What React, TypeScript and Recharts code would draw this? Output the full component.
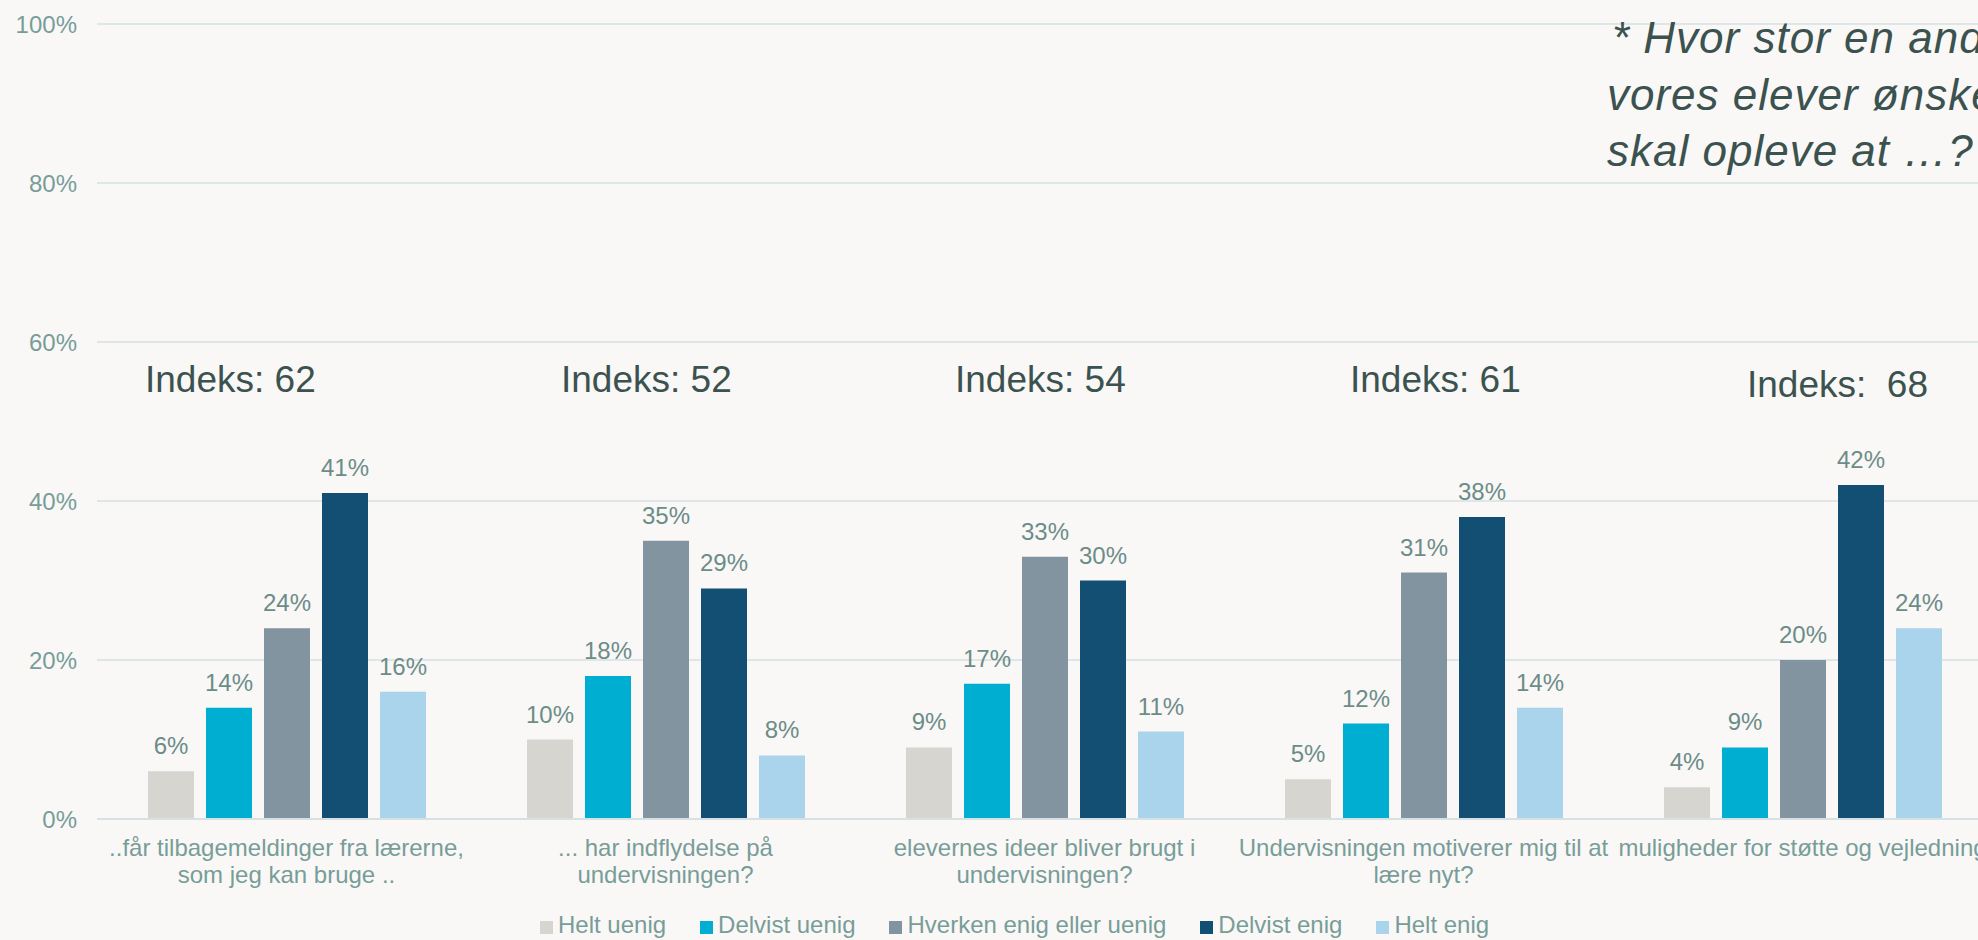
import React from "react";
import {
  BarChart,
  Bar,
  XAxis,
  YAxis,
  CartesianGrid,
  Legend,
  LabelList,
} from "recharts";

const categories = [
  "..får tilbagemeldinger fra lærerne,\nsom jeg kan bruge ..",
  "... har indflydelse på\nundervisningen?",
  "elevernes ideer bliver brugt i\nundervisningen?",
  "Undervisningen motiverer mig til at\nlære nyt?",
  "muligheder for støtte og vejledning",
];

const heltUenig = [6, 10, 9, 5, 4];
const delvistUenig = [14, 18, 17, 12, 9];
const hverken = [24, 35, 33, 31, 20];
const delvistEnig = [41, 29, 30, 38, 42];
const heltEnig = [16, 8, 11, 14, 24];

const indeks = ["62", "52", "54", "61", " 68"];

const yTicks = [0, 20, 40, 60, 80, 100];

const titleLines = [
  "* Hvor stor en andel af",
  "vores elever ønsker, at de",
  "skal opleve at …?",
];

const data = categories.map((name, i) => ({
  name,
  heltUenig: heltUenig[i],
  delvistUenig: delvistUenig[i],
  hverken: hverken[i],
  delvistEnig: delvistEnig[i],
  heltEnig: heltEnig[i],
}));

const series = [
  { key: "heltUenig", name: "Helt uenig", color: "#d7d5d0" },
  { key: "delvistUenig", name: "Delvist uenig", color: "#00aed1" },
  { key: "hverken", name: "Hverken enig eller uenig", color: "#8394a1" },
  { key: "delvistEnig", name: "Delvist enig", color: "#124f73" },
  { key: "heltEnig", name: "Helt enig", color: "#a9d4ec" },
];

const FONT = '"Liberation Sans", Arial, sans-serif';
const AXIS_TEXT = "#789d98";
const LABEL_TEXT = "#6c8c88";
const DARK_TEXT = "#3b524f";

// text boxes from the slide, placed by hand
const indeksPos = [
  { x: 145, y: 392 },
  { x: 561, y: 392 },
  { x: 955, y: 392 },
  { x: 1350, y: 392 },
  { x: 1747, y: 397 },
];

const CategoryTick = ({ x, y, payload }: any) => {
  const lines = String(payload.value).split("\n");
  return (
    <text x={x} y={y} textAnchor="middle" fill={AXIS_TEXT} fontSize={24} fontFamily={FONT}>
      {lines.map((line, i) => (
        <tspan key={i} x={x} y={y + 37 + i * 27}>
          {line}
        </tspan>
      ))}
    </text>
  );
};

// legend drawn in series order (recharts sorts its payload by name)
const LegendContent = () => (
  <div style={{ display: "flex", height: 28, fontFamily: FONT }}>
    {series.map((s) => (
      <div
        key={s.key}
        style={{ display: "flex", alignItems: "flex-start", marginRight: 34, lineHeight: "28px" }}
      >
        <div style={{ width: 13, height: 13, marginTop: 10, marginRight: 5, backgroundColor: s.color }} />
        <span style={{ fontSize: 24, color: AXIS_TEXT, whiteSpace: "nowrap" }}>{s.name}</span>
      </div>
    ))}
  </div>
);

export default function App() {
  return (
    <div
      style={{
        position: "fixed",
        left: 0,
        top: 0,
        width: 1978,
        height: 940,
        overflow: "hidden",
        background: "#f9f8f7",
        fontFamily: FONT,
      }}
    >
      <BarChart
        width={1992}
        height={940}
        data={data}
        margin={{ top: 24, right: 0, left: 0, bottom: 0 }}
        barSize={46}
        barGap={12}
      >
        <CartesianGrid vertical={false} stroke="#dee6e7" strokeWidth={2} />
        <XAxis
          dataKey="name"
          interval={0}
          height={93}
          tickLine={false}
          tickSize={0}
          tickMargin={0}
          axisLine={{ stroke: "#d6e1e3", strokeWidth: 2 }}
          tick={<CategoryTick />}
        />
        <YAxis
          width={97}
          domain={[0, 100]}
          ticks={yTicks}
          axisLine={false}
          tickLine={false}
          tickSize={0}
          tickMargin={20}
          tickFormatter={(v: number) => `${v}%`}
          tick={{ fill: AXIS_TEXT, fontSize: 24, fontFamily: FONT }}
        />
        <Legend
          verticalAlign="bottom"
          content={<LegendContent />}
          wrapperStyle={{ left: 540, top: 911, width: "auto" }}
        />
        {series.map((s) => (
          <Bar key={s.key} dataKey={s.key} name={s.name} fill={s.color} isAnimationActive={false}>
            <LabelList
              dataKey={s.key}
              position="top"
              offset={17}
              formatter={(v: any) => `${v}%`}
              fill={LABEL_TEXT}
              fontSize={24}
              fontFamily={FONT}
            />
          </Bar>
        ))}
      </BarChart>

      <svg
        width={1978}
        height={940}
        style={{ position: "absolute", left: 0, top: 0, pointerEvents: "none" }}
      >
        {indeks.map((v, i) => (
          <text
            key={i}
            x={indeksPos[i].x}
            y={indeksPos[i].y}
            fontSize={37}
            fontFamily={FONT}
            fill={DARK_TEXT}
            style={{ whiteSpace: "pre" }}
          >
            {`Indeks: ${v}`}
          </text>
        ))}
        {titleLines.map((line, i) => (
          <text
            key={i}
            x={i === 0 ? 1612 : 1607}
            y={53 + i * 56.5}
            fontSize={44}
            fontStyle="italic"
            fontFamily={FONT}
            fill={DARK_TEXT}
            letterSpacing={1}
          >
            {line}
          </text>
        ))}
      </svg>
    </div>
  );
}
